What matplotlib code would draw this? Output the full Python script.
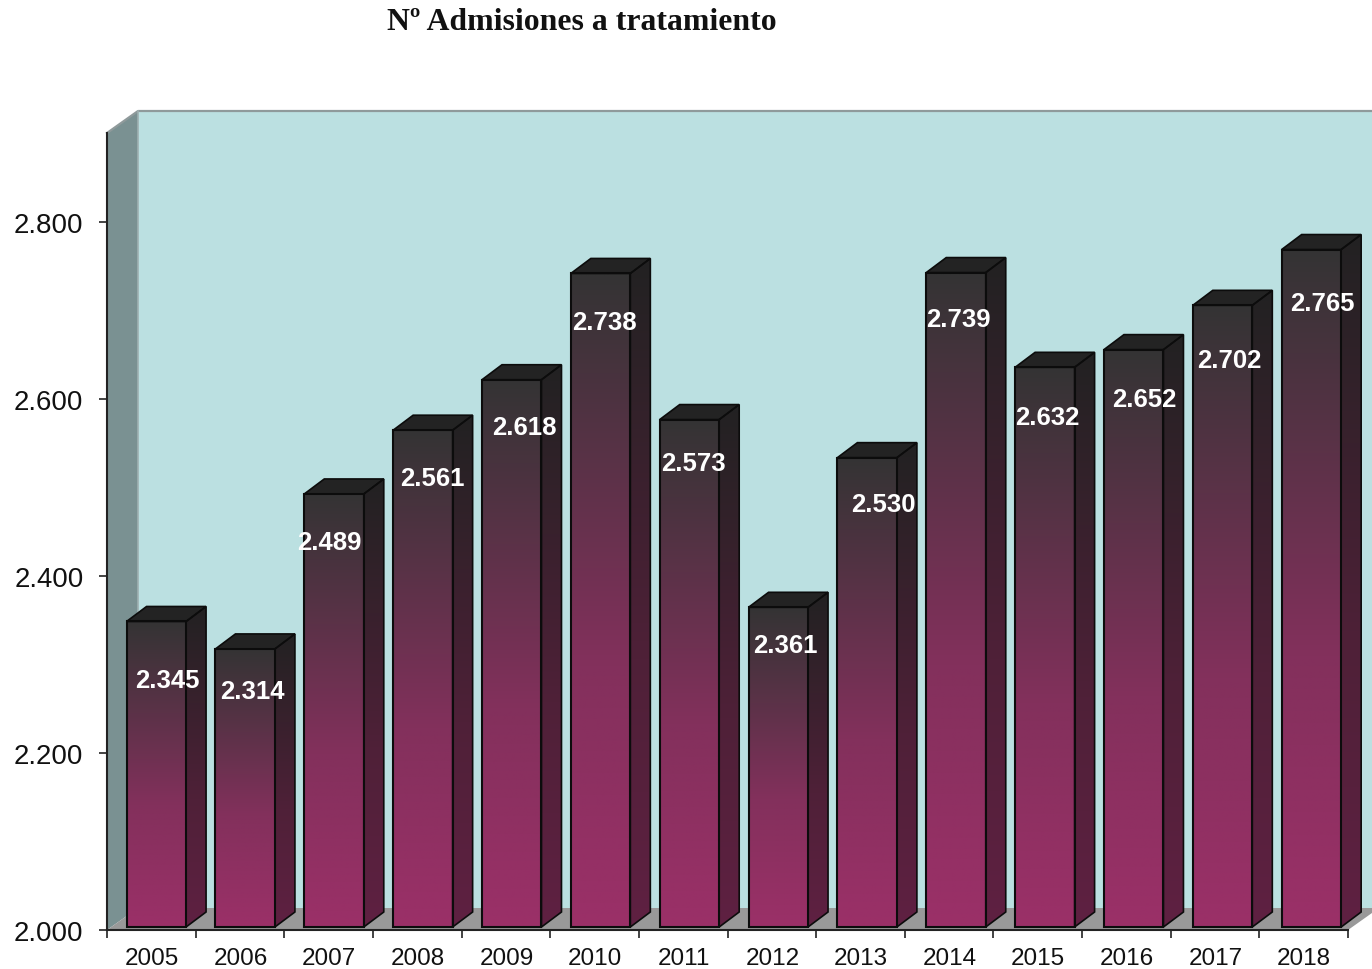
import numpy as np
import matplotlib
matplotlib.use("Agg")
import matplotlib.pyplot as plt
from matplotlib.patches import Polygon

years = [2005, 2006, 2007, 2008, 2009, 2010, 2011, 2012, 2013, 2014, 2015, 2016, 2017, 2018]
values = [2345, 2314, 2489, 2561, 2618, 2738, 2573, 2361, 2530, 2739, 2632, 2652, 2702, 2765]
value_labels = ["2.345", "2.314", "2.489", "2.561", "2.618", "2.738", "2.573",
                "2.361", "2.530", "2.739", "2.632", "2.652", "2.702", "2.765"]
y_ticks = [2000, 2200, 2400, 2600, 2800]
y_tick_labels = ["2.000", "2.200", "2.400", "2.600", "2.800"]
title = "Nº Admisiones a tratamiento"

# label placement relative to each bar, pixels
label_dx = [11, 7, -5, 9.5, 12.5, 4, 4, 7, 16, 2.5, 2.5, 10.5, 7, 11]
label_dy = [58.5, 42, 48, 48, 47, 48.5, 43, 38, 46, 46.5, 50, 49.5, 55, 53.5]

W, H = 1372, 970
fig = plt.figure(figsize=(W / 100, H / 100), dpi=100, facecolor="white")
L, R, B, T = 107, 1348, 931, 134
ax = fig.add_axes([L / W, (H - B) / H, (R - L) / W, (B - T) / H])
ax.patch.set_visible(False)
YMIN, YMAX = 2000, 2900
n = len(years)
px_x = (R - L) / n            # pixels per category
px_y = (B - T) / (YMAX - YMIN)  # pixels per value unit
ddx = lambda p: p / px_x
ddy = lambda p: p / px_y

# box depth
DX, DY = ddx(31), ddy(22)
x0, x1 = -0.5, n - 0.5
# walls and floor
ax.add_patch(Polygon([(x0, YMIN), (x0, YMAX), (x0 + DX, YMAX + DY), (x0 + DX, YMIN + DY)],
                     fc="#7a9192", ec="none", zorder=1, clip_on=False))
ax.add_patch(Polygon([(x0 + DX, YMIN + DY), (x0 + DX, YMAX + DY), (x1 + DX, YMAX + DY), (x1 + DX, YMIN + DY)],
                     fc="#bbe0e1", ec="none", zorder=1, clip_on=False))
ax.add_patch(Polygon([(x0, YMIN), (x0 + DX, YMIN + DY), (x1 + DX, YMIN + DY), (x1, YMIN)],
                     fc="#999999", ec="none", zorder=1, clip_on=False))
ax.plot([x0, x0 + DX, x1 + DX], [YMAX, YMAX + DY, YMAX + DY], color="#8f9a9b", lw=1.6, zorder=2, clip_on=False)
ax.plot([x0 + DX, x0 + DX], [YMIN + DY, YMAX + DY], color="#9fb0b1", lw=1.2, zorder=2, clip_on=False)

def ramp(top, mid, bottom, stop=0.6, steps=128):
    t = np.linspace(0, 1, steps)
    top, mid, bottom = [np.array(matplotlib.colors.to_rgb(c)) for c in (top, mid, bottom)]
    arr = np.array([top + (mid - top) * (u / stop) if u < stop
                    else mid + (bottom - mid) * ((u - stop) / (1 - stop)) for u in t])
    return arr[:, None, :]

front_grad = ramp("#343434", "#83305c", "#9b3068")
side_grad = ramp("#222222", "#4f2038", "#5f2142")

bar_w = ddx(59.5)
bx, by = ddx(20), ddy(15)
lift = ddy(3)
base = YMIN + lift
for i, (v, txt) in enumerate(zip(values, value_labels)):
    c = i + ddx(5 + 0.21 * i)
    l, r = c - bar_w / 2, c + bar_w / 2
    top = v + lift
    # front
    front = Polygon([(l, base), (l, top), (r, top), (r, base)], fc="none", ec="none",
                    transform=ax.transData)
    ax.add_patch(front)
    im = ax.imshow(front_grad, extent=(l, r, base, top), aspect="auto", zorder=3,
                   interpolation="bilinear", origin="upper")
    im.set_clip_path(front)
    im.set_clip_box(fig.bbox)
    # side
    spts = [(r, base), (r, top), (r + bx, top + by), (r + bx, base + by)]
    side = Polygon(spts, fc="none", ec="none", transform=ax.transData)
    ax.add_patch(side)
    im2 = ax.imshow(side_grad, extent=(r, r + bx, base, top + by), aspect="auto", zorder=3,
                    interpolation="bilinear", origin="upper")
    im2.set_clip_path(side)
    im2.set_clip_box(fig.bbox)
    # top
    tpts = [(l, top), (l + bx, top + by), (r + bx, top + by), (r, top)]
    ax.add_patch(Polygon(tpts, fc="#232323", ec="#0c0c0c", lw=1.2, zorder=4, clip_on=False))
    ax.add_patch(Polygon(spts, fc="none", ec="#0c0c0c", lw=1.2, zorder=4, clip_on=False))
    ax.add_patch(Polygon([(l, base), (l, top), (r, top), (r, base)], fc="none", ec="#0c0c0c",
                         lw=1.5, zorder=4, clip_on=False))
    ax.annotate(txt, xy=(c, top), xytext=(label_dx[i], -label_dy[i]), textcoords="offset pixels",
                ha="center", va="center", color="white", fontsize=18.5, fontweight="bold",
                family="Liberation Sans", zorder=6, annotation_clip=False)

ax.set_xlim(x0, x1)
ax.set_ylim(YMIN, YMAX)

for s in ("top", "right"):
    ax.spines[s].set_visible(False)
for s in ("left", "bottom"):
    ax.spines[s].set_linewidth(1.5)
    ax.spines[s].set_color("#222222")
    ax.spines[s].set_zorder(5)

ax.set_yticks(y_ticks)
ax.set_yticklabels(y_tick_labels, family="Liberation Sans", fontsize=19.9, color="#111111")
ax.tick_params(axis="y", length=6, width=1.2, pad=11, color="#222222")
ax.set_xticks(np.arange(n + 1) - 0.5)
ax.set_xticklabels([""] * (n + 1))
ax.tick_params(axis="x", length=6, width=1.2, color="#222222")
for i, y in enumerate(years):
    ax.annotate(str(y), xy=(i, YMIN), xytext=(0.5, -28), textcoords="offset pixels", ha="center",
                va="center", family="Liberation Sans", fontsize=17.5, color="#111111",
                annotation_clip=False)

fig.text(581.5 / W, 1 - 23 / H, title, ha="center", va="center", family="Liberation Serif",
         fontweight="bold", fontsize=22.85, color="#111111")

fig.savefig("out.png", dpi=100)
